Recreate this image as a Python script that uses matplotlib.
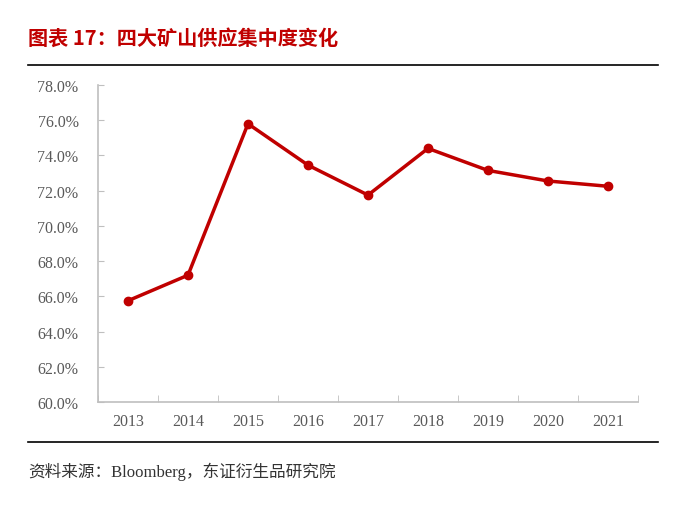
import matplotlib
matplotlib.use('Agg')
from matplotlib import pyplot as plt
from matplotlib.lines import Line2D

years = ['2013', '2014', '2015', '2016', '2017', '2018', '2019', '2020', '2021']
share = [65.75, 67.2, 75.8, 73.45, 71.75, 74.4, 73.15, 72.55, 72.25]
y_ticks = [60, 62, 64, 66, 68, 70, 72, 74, 76, 78]

title = '图表 17：四大矿山供应集中度变化'
source = '资料来源：Bloomberg，东证衍生品研究院'

red = '#C00000'
grey = '#BFBFBF'
cjk = ['Noto Sans CJK SC', 'DejaVu Sans']

fig = plt.figure(figsize=(7, 5.06), dpi=100)
ax = fig.add_axes([0.14, 0.2036, 0.7714, 0.6264])

x = list(range(len(years)))
ax.plot(x, share, color=red, linewidth=2.5, marker='o', markersize=6)

ax.set_xlim(-0.5, len(years) - 0.5)
ax.set_ylim(60, 78)
ax.set_yticks(y_ticks)
ax.set_yticklabels(['%.1f%%' % v for v in y_ticks],
                   family='Liberation Serif', fontsize=11.5, color='#595959')
ax.set_xticks(x)
ax.set_xticklabels(years, family='Liberation Serif', fontsize=11.5, color='#595959')
ax.tick_params(axis='x', length=0, pad=8)
ax.tick_params(axis='y', direction='in', length=4, color=grey, pad=14)

# category boundary ticks on the x axis
ax.set_xticks([i - 0.5 for i in range(len(years) + 1)], minor=True)
ax.tick_params(axis='x', which='minor', direction='in', length=5, color=grey)

for side in ['top', 'right']:
    ax.spines[side].set_visible(False)
for side in ['left', 'bottom']:
    ax.spines[side].set_color(grey)
    ax.spines[side].set_linewidth(1.2)

fig.text(0.04, 0.925, title, family=cjk, fontsize=14.5, fontweight='bold',
         color=red, va='center')
fig.add_artist(Line2D([0.04, 0.94], [0.870, 0.870], color='black', linewidth=1.2))
fig.add_artist(Line2D([0.04, 0.94], [0.125, 0.125], color='black', linewidth=1.2))
fig.text(0.04, 0.067, source, family=['Liberation Serif', 'Noto Sans CJK SC'],
         fontsize=12, color='#333333', va='center')

fig.savefig('out.png', dpi=100)
